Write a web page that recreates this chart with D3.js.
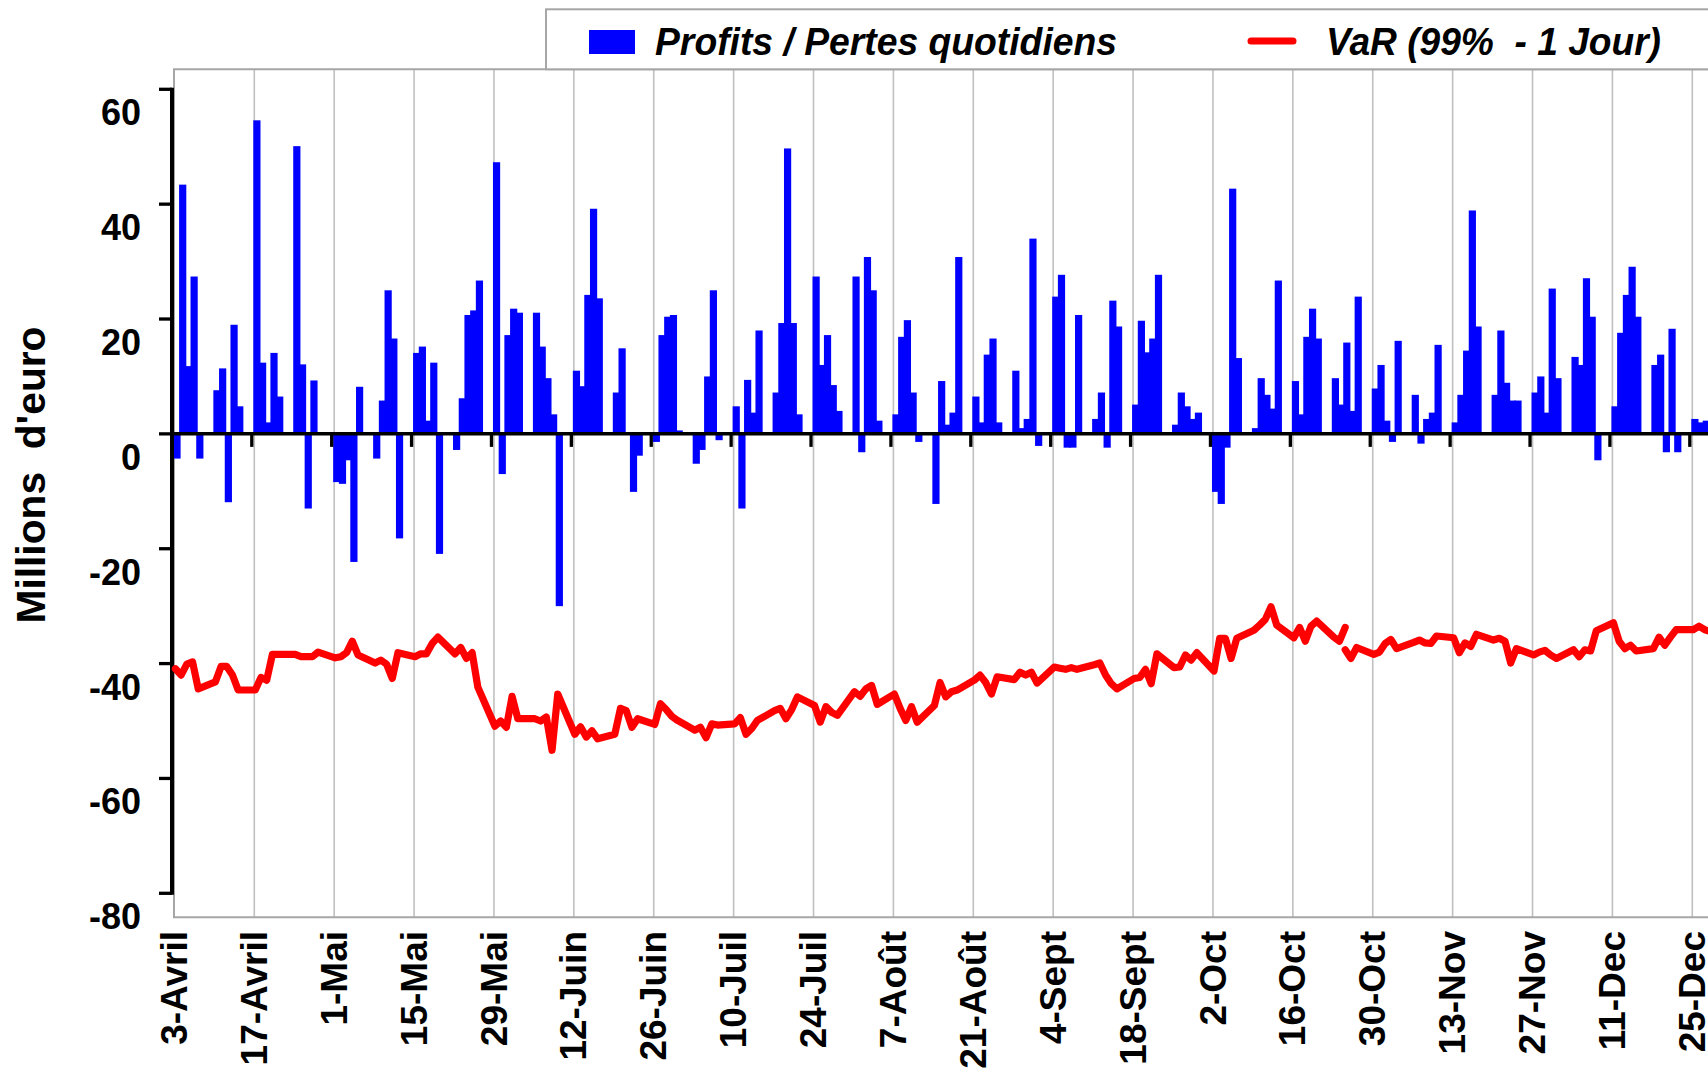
<!DOCTYPE html>
<html><head><meta charset="utf-8">
<script src="https://cdn.jsdelivr.net/npm/d3@7"></script>
<style>html,body{margin:0;padding:0;background:#fff;overflow:hidden}</style>
</head><body>
<svg id="c" width="1708" height="1075" xmlns="http://www.w3.org/2000/svg"></svg>
<script>
// ---- DATA ----
const dates = [
"04-03","04-04","04-05","04-06","04-07","04-10","04-11","04-12","04-13","04-14",
"04-17","04-18","04-19","04-20","04-21","04-24","04-25","04-26","04-27","04-28",
"05-01","05-02","05-03","05-04","05-05","05-08","05-09","05-10","05-11","05-12",
"05-15","05-16","05-17","05-18","05-19","05-22","05-23","05-24","05-25","05-26",
"05-29","05-30","05-31","06-01","06-02","06-05","06-06","06-07","06-08","06-09",
"06-12","06-13","06-14","06-15","06-16","06-19","06-20","06-21","06-22","06-23",
"06-26","06-27","06-28","06-29","06-30","07-03","07-04","07-05","07-06","07-07",
"07-10","07-11","07-12","07-13","07-14","07-17","07-18","07-19","07-20","07-21",
"07-24","07-25","07-26","07-27","07-28","07-31","08-01","08-02","08-03","08-04",
"08-07","08-08","08-09","08-10","08-11","08-14","08-15","08-16","08-17","08-18",
"08-21","08-22","08-23","08-24","08-25","08-28","08-29","08-30","08-31","09-01",
"09-04","09-05","09-06","09-07","09-08","09-11","09-12","09-13","09-14","09-15",
"09-18","09-19","09-20","09-21","09-22","09-25","09-26","09-27","09-28","09-29",
"10-02","10-03","10-04","10-05","10-06","10-09","10-10","10-11","10-12","10-13",
"10-16","10-17","10-18","10-19","10-20","10-23","10-24","10-25","10-26","10-27",
"10-30","10-31","11-01","11-02","11-03","11-06","11-07","11-08","11-09","11-10",
"11-13","11-14","11-15","11-16","11-17","11-20","11-21","11-22","11-23","11-24",
"11-27","11-28","11-29","11-30","12-01","12-04","12-05","12-06","12-07","12-08",
"12-11","12-12","12-13","12-14","12-15","12-18","12-19","12-20","12-21","12-22",
"12-25","12-26","12-27","12-28"];

// Profits / Pertes quotidiens (millions d'euro)
const pnl = [
-4.3,43.4,11.8,27.4,-4.3, 7.6,11.4,-11.9,19.0,4.8,
54.6,12.4,2.0,14.1,6.5, 50.1,12.1,-13.0,9.3,null,
-8.4,-8.7,-4.6,-22.3,8.2, -4.3,5.8,25.0,16.6,-18.2,
14.1,15.2,2.3,12.4,-20.9, -2.8,6.2,20.7,21.5,26.7,
47.3,-7.0,17.2,21.8,21.1, 21.1,15.2,9.7,3.4,-30.0,
11.0,8.3,24.2,39.2,23.6, 7.2,14.9,null,-10.1,-3.8,
-1.4,17.2,20.4,20.7,0.6, -5.2,-2.8,10.0,25.0,-1.1,
4.8,-13.0,9.4,3.7,18.0, 7.2,19.3,49.7,19.3,3.4,
27.4,12.0,17.2,8.5,4.0, 27.4,-3.2,30.8,25.0,2.3,
3.4,16.9,19.8,7.2,-1.4, -12.2,9.2,1.6,3.7,30.8,
6.5,2.0,13.8,16.6,2.0, 11.0,1.0,2.6,34.0,-2.1,
23.9,27.7,-2.4,-2.4,20.7, 2.6,7.2,-2.4,23.2,18.7,
5.1,19.7,14.2,16.6,27.7, 1.6,7.2,4.8,2.6,3.7,
-10.1,-12.2,-2.4,42.7,13.2, 1.0,9.7,6.8,4.4,26.7,
9.2,3.4,16.9,21.8,16.6, 9.7,5.1,15.9,4.0,23.9,
7.9,12.0,2.3,-1.4,16.2, 6.8,-1.7,2.6,3.7,15.5,
2.0,6.8,14.5,38.9,18.7, 6.8,18.0,8.9,5.8,5.8,
7.2,10.0,3.7,25.3,9.7, 13.4,12.0,27.1,20.4,-4.6,
4.8,17.6,24.2,29.1,20.4, 12.0,13.8,-3.2,18.3,-3.2,
2.6,2.0,2.3,31.1];

// VaR (99% - 1 Jour), first segment: 3-Avril .. 25-Oct
const varAvant = [
-40.9,-42.0,-40.1,-39.7,-44.4, -43.2,-40.5,-40.5,-42.0,-44.6,
-44.6,-42.4,-42.9,-38.4,-38.4, -38.4,-38.8,-38.8,-38.8,-38.0,
-39.0,-38.8,-38.1,-36.1,-38.5, -39.9,-39.4,-40.1,-42.6,-38.1,
-38.8,-38.3,-38.3,-36.5,-35.4, -38.3,-37.2,-39.1,-38.1,-44.1,
-50.9,-50.0,-51.1,-45.7,-49.6, -49.6,-50.0,-49.3,-55.1,-45.3,
-52.3,-51.0,-52.8,-51.7,-53.1, -52.3,-47.8,-48.2,-51.1,-49.6,
-50.6,-47.0,-48.0,-49.2,-49.9, -51.6,-51.1,-52.9,-50.5,-50.7,
-50.5,-49.4,-52.3,-51.3,-49.9, -48.2,-47.8,-49.6,-48.0,-45.8,
-47.3,-50.2,-47.5,-48.5,-49.0, -44.9,-45.7,-44.4,-43.8,-47.1,
-45.3,-47.8,-49.9,-47.5,-50.2, -47.3,-43.3,-45.8,-44.9,-44.6,
-42.9,-42.0,-43.3,-45.3,-42.3, -42.8,-41.5,-42.0,-41.5,-43.4,
-40.6,-40.8,-41.0,-40.7,-41.0, -40.2,-39.9,-42.0,-43.5,-44.4,
-42.6,-42.4,-41.0,-43.5,-38.3, -40.7,-40.6,-38.5,-39.4,-38.1,
-41.3,-35.6,-35.6,-39.1,-35.6, -34.2,-33.3,-32.3,-30.1,-33.3,
-35.5,-33.7,-36.1,-33.5,-32.6, -35.4,-36.1,-33.7];
// second segment: 25-Oct .. 28-Dec
const varApresStart = "10-25";
const varApres = [
-37.6,-39.1,-37.2,
-38.4,-38.0,-36.5,-35.8,-37.4, -36.3,-35.9,-36.4,-36.5,-35.2,
-35.5,-38.1,-36.4,-37.0,-34.9, -35.9,-35.6,-36.1,-39.9,-37.4,
-38.5,-38.0,-37.7,-38.5,-39.1, -37.6,-38.8,-37.6,-37.8,-34.3,
-32.9,-36.1,-37.4,-36.8,-37.8, -37.4,-35.4,-36.8,-35.4,-34.1,
-34.1,-33.5,-34.1,-34.4];

const tickDays = ["04-03","04-17","05-01","05-15","05-29","06-12","06-26","07-10","07-24","08-07",
  "08-21","09-04","09-18","10-02","10-16","10-30","11-13","11-27","12-11","12-25"];
const tickLabels = ["3-Avril","17-Avril","1-Mai","15-Mai","29-Mai","12-Juin","26-Juin","10-Juil","24-Juil","7-Août",
  "21-Août","4-Sept","18-Sept","2-Oct","16-Oct","30-Oct","13-Nov","27-Nov","11-Dec","25-Dec"];
const yTicks = [60,40,20,0,-20,-40,-60,-80];

// ---- CHART ----
const parse = s => new Date(Date.UTC(2000, +s.slice(0,2)-1, +s.slice(3)));
const D = dates.map(parse);
const svg = d3.select("#c");
const FONT = "'Liberation Sans', Arial, sans-serif";

const plotTop = 69.3, plotBottom = 917.3, plotLeft = 174, W = 1708;
const x = d3.scaleUtc().domain([parse("04-03"), parse("12-25")]).range([174.4, 1692.3]);
const y = d3.scaleLinear().domain([-80, 60]).range([893.3, 89.3]);

// gridlines
svg.append("g").selectAll("line").data(tickDays.slice(1)).join("line")
  .attr("x1", d => x(parse(d))).attr("x2", d => x(parse(d)))
  .attr("y1", plotTop).attr("y2", plotBottom)
  .attr("stroke", "#c0c0c0").attr("stroke-width", 1.6);

// plot border
svg.append("path")
  .attr("d", `M${W+5},${plotTop}H${plotLeft}V${plotBottom}H${W+5}`)
  .attr("fill", "none").attr("stroke", "#a6a6a6").attr("stroke-width", 2);

// bars
const barData = D.map((d, i) => ({d, v: pnl[i]})).filter(o => o.v != null);
svg.append("g").selectAll("rect").data(barData).join("rect")
  .attr("x", o => x(o.d) - 1)
  .attr("width", 7.2)
  .attr("y", o => Math.min(y(o.v), y(0)))
  .attr("height", o => Math.abs(y(o.v) - y(0)))
  .attr("fill", "#0000ff");

// zero axis
svg.append("line").attr("x1", 170).attr("x2", W + 5).attr("y1", y(0)).attr("y2", y(0))
  .attr("stroke", "#000").attr("stroke-width", 3.5);
svg.append("g").selectAll("line").data(tickDays).join("line")
  .attr("x1", d => x(parse(d)) - 2.5).attr("x2", d => x(parse(d)) - 2.5)
  .attr("y1", y(0)).attr("y2", y(0) + 13)
  .attr("stroke", "#000").attr("stroke-width", 3.3);

// y axis
svg.append("line").attr("x1", 172).attr("x2", 172).attr("y1", y(60) - 1.5).attr("y2", y(-80) + 1.5)
  .attr("stroke", "#000").attr("stroke-width", 4);
svg.append("g").selectAll("line").data(yTicks).join("line")
  .attr("x1", 159).attr("x2", 172).attr("y1", d => y(d)).attr("y2", d => y(d))
  .attr("stroke", "#000").attr("stroke-width", 3.3);
svg.append("g").selectAll("text").data(yTicks).join("text")
  .attr("x", 141).attr("y", d => y(d) + 23).attr("dy", "0.36em")
  .attr("text-anchor", "end").attr("font-family", FONT).attr("font-weight", "bold")
  .attr("font-size", 36).text(d => d);

// VaR line
const lineGen = d3.line().x(o => x(o.d) + 1).y(o => y(o.v));
const seg1 = varAvant.map((v, i) => ({d: D[i], v}));
const k0 = dates.indexOf(varApresStart);
const seg2 = varApres.map((v, i) => ({d: D[k0 + i], v}));
svg.append("g").selectAll("path").data([seg1, seg2]).join("path")
  .attr("d", lineGen).attr("fill", "none").attr("stroke", "#ff0000")
  .attr("stroke-width", 7.2).attr("stroke-linejoin", "round").attr("stroke-linecap", "round");

// x labels
svg.append("g").selectAll("text").data(tickDays).join("text")
  .attr("transform", d => `translate(${x(parse(d))},931) rotate(-90)`)
  .attr("dy", "0.34em").attr("text-anchor", "end")
  .attr("font-family", FONT).attr("font-weight", "bold").attr("font-size", 37)
  .text((d, i) => tickLabels[i]);

// y title
svg.append("text").attr("transform", "translate(31,475) rotate(-90)")
  .attr("dy", "0.36em").attr("text-anchor", "middle")
  .attr("font-family", FONT).attr("font-weight", "bold").attr("font-size", 40)
  .attr("textLength", 297).attr("lengthAdjust", "spacingAndGlyphs")
  .style("white-space", "pre").text("Millions  d'euro");

// legend
const lg = svg.append("g");
lg.append("rect").attr("x", 546).attr("y", 9.3).attr("width", 1200).attr("height", 60)
  .attr("fill", "#fff").attr("stroke", "#a6a6a6").attr("stroke-width", 2);
lg.append("rect").attr("x", 589).attr("y", 30).attr("width", 46).attr("height", 24).attr("fill", "#0000ff");
lg.append("text").attr("x", 655).attr("y", 55).attr("font-family", FONT)
  .attr("font-weight", "bold").attr("font-style", "italic").attr("font-size", 38)
  .attr("textLength", 462).attr("lengthAdjust", "spacingAndGlyphs")
  .text("Profits / Pertes quotidiens");
lg.append("line").attr("x1", 1251).attr("x2", 1293).attr("y1", 41).attr("y2", 41)
  .attr("stroke", "#ff0000").attr("stroke-width", 7).attr("stroke-linecap", "round");
lg.append("text").attr("x", 1326).attr("y", 55).attr("font-family", FONT)
  .attr("font-weight", "bold").attr("font-style", "italic").attr("font-size", 38)
  .attr("textLength", 335).attr("lengthAdjust", "spacingAndGlyphs")
  .style("white-space", "pre").text("VaR (99%  - 1 Jour)");
</script>
</body></html>
